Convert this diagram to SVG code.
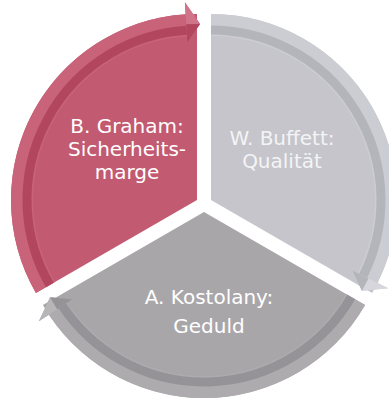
<svg xmlns="http://www.w3.org/2000/svg" width="389" height="400" viewBox="0 0 389 400">
  <defs>
    <style>
      .lbl { font-family: "DejaVu Sans", Verdana, sans-serif; font-size: 20px; text-anchor: middle; fill: #ffffff; }
      .lbl2 { fill: #f4f4f6; }
    </style>
    <g id="pie">
      <path d="M0,0 L-161.08,93 A186,186 0 0 1 0,-186 Z"/>
    </g>
    <g id="arrow">
      <path d="M-161.08,93 A186,186 0 0 1 -11.36,-185.65 L-12.09,-197.63 L3.07,-175.97 L-9.65,-157.70 L-10.01,-163.69 A164,164 0 0 0 -142.03,82 Z"/>
    </g>
  </defs>
  <rect width="389" height="400" fill="#ffffff"/>
  <g id="graham">
    <g transform="translate(197,200)">
      <use href="#pie" fill="#c25a72"/>
      <use href="#arrow" fill="#c8637a"/>
      <path d="M-147.22,85 A170,170 0 0 1 -10.38,-169.68" fill="none" stroke="#b3465f" stroke-width="9"/>
      <polygon points="-12.09,-197.63 3.07,-175.97 -10.74,-175.67" fill="#cf7489"/>
      <polygon points="-10.74,-175.67 3.07,-175.97 -9.65,-157.70" fill="#b3465f"/>
    </g>
    <text class="lbl" x="127" y="133">B. Graham:</text>
    <text class="lbl" x="127" y="156">Sicherheits-</text>
    <text class="lbl" x="127" y="179">marge</text>
  </g>
  <g id="buffett">
    <g transform="translate(211,200) rotate(120)">
      <use href="#pie" fill="#c5c5cb"/>
      <use href="#arrow" fill="#cccdd2"/>
      <path d="M-147.22,85 A170,170 0 0 1 -10.38,-169.68" fill="none" stroke="#b4b4bb" stroke-width="9"/>
      <polygon points="-12.09,-197.63 3.07,-175.97 -10.74,-175.67" fill="#d6d6dc"/>
      <polygon points="-10.74,-175.67 3.07,-175.97 -9.65,-157.70" fill="#b4b4bb"/>
    </g>
    <text class="lbl lbl2" x="282" y="145">W. Buffett:</text>
    <text class="lbl lbl2" x="282" y="168">Qualität</text>
  </g>
  <g id="kostolany">
    <g transform="translate(204,212) rotate(240)">
      <use href="#pie" fill="#a9a6aa"/>
      <use href="#arrow" fill="#aeabaf"/>
      <path d="M-147.22,85 A170,170 0 0 1 -10.38,-169.68" fill="none" stroke="#969398" stroke-width="9"/>
      <polygon points="-12.09,-197.63 3.07,-175.97 -10.74,-175.67" fill="#b8b5b9"/>
      <polygon points="-10.74,-175.67 3.07,-175.97 -9.65,-157.70" fill="#969398"/>
    </g>
    <text class="lbl" x="209" y="304">A. Kostolany:</text>
    <text class="lbl" x="209" y="333">Geduld</text>
  </g>
  <g id="connectors"/>
</svg>
